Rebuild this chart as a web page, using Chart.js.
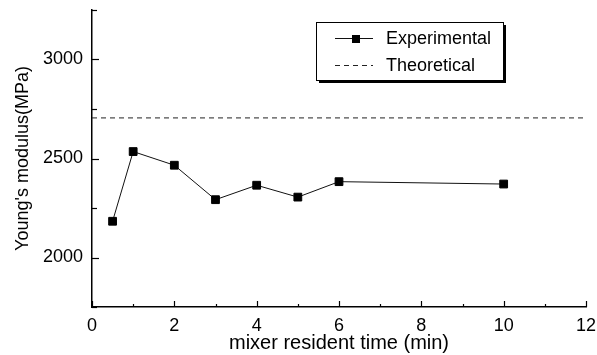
<!DOCTYPE html>
<html>
<head>
<meta charset="utf-8">
<script src="https://cdn.jsdelivr.net/npm/chart.js@4/dist/chart.umd.min.js"></script>
<style>
    html, body { margin: 0; padding: 0; background: #fff; }
    #wrap { width: 597px; height: 355px; position: relative; }
</style>
</head>
<body>
<div id="wrap"><canvas id="modulusChart"></canvas></div>
<script>
    // values
    const times = [0.5, 1, 2, 3, 4, 5, 6, 10];
    const experimental = [2183, 2535, 2466, 2292, 2365, 2305, 2383, 2371];
    const theoryX = [0, 12];
    const theoretical = [2705, 2705];
    const xTicks = [0, 2, 4, 6, 8, 10, 12];
    const yTicks = [2000, 2500, 3000];

    const FONT = '"Liberation Sans", Arial, sans-serif';

    function pairs(xs, ys) {
        return xs.map((x, i) => ({ x: x, y: ys[i] }));
    }

    // keep the plot box where the figure has it, no extra room for labels
    function noPad(scale) {
        scale.paddingTop = 0;
        scale.paddingBottom = 0;
        scale.paddingLeft = 0;
        scale.paddingRight = 0;
    }

    // inward tick marks, long on labelled values, short between
    const innerTicks = {
        id: 'innerTicks',
        afterDraw(chart) {
            const ctx = chart.ctx;
            const xs = chart.scales.x, ys = chart.scales.y;
            const area = chart.chartArea;
            ctx.save();
            ctx.strokeStyle = '#000';
            ctx.lineWidth = 1.2;
            xs.ticks.forEach(t => {
                const px = Math.round(xs.getPixelForValue(t.value)) + 0.5;
                const len = xTicks.includes(t.value) ? 6 : 3;
                ctx.beginPath();
                ctx.moveTo(px, area.bottom);
                ctx.lineTo(px, area.bottom - len);
                ctx.stroke();
            });
            ys.ticks.forEach(t => {
                const py = Math.round(ys.getPixelForValue(t.value)) + 0.5;
                const len = yTicks.includes(t.value) ? 7 : 5;
                ctx.beginPath();
                ctx.moveTo(area.left, py);
                ctx.lineTo(area.left + len, py);
                ctx.stroke();
            });
            ctx.restore();
        }
    };

    // boxed legend with a drop shadow, like the original figure
    const boxLegend = {
        id: 'boxLegend',
        afterDraw(chart) {
            const ctx = chart.ctx;
            const box = { x: 316, y: 22, w: 187, h: 58 };
            ctx.save();
            ctx.fillStyle = '#000';
            ctx.fillRect(box.x + 3, box.y + 3, box.w, box.h);
            ctx.fillStyle = '#fff';
            ctx.fillRect(box.x, box.y, box.w, box.h);
            ctx.strokeStyle = '#000';
            ctx.lineWidth = 1;
            ctx.strokeRect(box.x + 0.5, box.y + 0.5, box.w, box.h);

            const rows = [38, 65];
            chart.data.datasets.forEach((ds, i) => {
                const y = rows[i] + 0.5;
                ctx.strokeStyle = ds.borderColor;
                ctx.lineWidth = ds.borderWidth;
                ctx.setLineDash(ds.borderDash || []);
                ctx.beginPath();
                ctx.moveTo(335, y);
                ctx.lineTo(373, y);
                ctx.stroke();
                ctx.setLineDash([]);
                if (ds.pointRadius > 0) {
                    ctx.fillStyle = ds.pointBackgroundColor;
                    ctx.fillRect(352, rows[i] - 3, 8, 8);
                }
                ctx.fillStyle = '#000';
                ctx.font = '18px ' + FONT;
                ctx.textBaseline = 'middle';
                ctx.textAlign = 'left';
                ctx.fillText(ds.label, 386, rows[i] + 1);
            });
            ctx.restore();
        }
    };

    const ctx = document.getElementById('modulusChart').getContext('2d');
    new Chart(ctx, {
        type: 'line',
        data: {
            datasets: [{
                label: 'Experimental',
                data: pairs(times, experimental),
                borderColor: '#111',
                borderWidth: 1,
                pointStyle: 'rect',
                pointRadius: 5.5,
                pointBackgroundColor: '#000',
                pointBorderColor: '#000',
                pointBorderWidth: 1,
                tension: 0
            }, {
                label: 'Theoretical',
                data: pairs(theoryX, theoretical),
                borderColor: '#222',
                borderWidth: 1,
                borderDash: [5, 4],
                pointRadius: 0,
                tension: 0
            }]
        },
        options: {
            responsive: true,
            maintainAspectRatio: false,
            animation: false,
            layout: { padding: { top: 10, right: 11, left: 0, bottom: 0 } },
            plugins: { legend: { display: false }, tooltip: { enabled: false } },
            scales: {
                x: {
                    type: 'linear',
                    min: 0, max: 12,
                    afterFit(scale) { scale.height = 48; noPad(scale); },
                    grid: { display: false, drawTicks: false },
                    border: { display: true, color: '#000', width: 1.5 },
                    ticks: {
                        stepSize: 1,
                        autoSkip: false,
                        maxRotation: 0,
                        padding: 8,
                        color: '#000',
                        font: { family: FONT, size: 18 },
                        callback: v => xTicks.includes(v) ? String(v) : ''
                    },
                    title: {
                        display: true,
                        text: 'mixer resident time (min)',
                        color: '#000',
                        font: { family: FONT, size: 20 },
                        padding: { top: 0, bottom: 0 }
                    }
                },
                y: {
                    min: 1750, max: 3250,
                    afterFit(scale) { scale.width = 92; noPad(scale); },
                    grid: { display: false, drawTicks: false },
                    border: { display: true, color: '#000', width: 1.5 },
                    ticks: {
                        stepSize: 250,
                        padding: 9,
                        color: '#000',
                        font: { family: FONT, size: 18 },
                        callback: v => yTicks.includes(v) ? String(v) : ''
                    },
                    title: {
                        display: true,
                        text: "Young's modulus(MPa)",
                        color: '#000',
                        font: { family: FONT, size: 18 },
                        padding: { top: 12, bottom: 0 }
                    }
                }
            }
        },
        plugins: [innerTicks, boxLegend]
    });
</script>
</body>
</html>
